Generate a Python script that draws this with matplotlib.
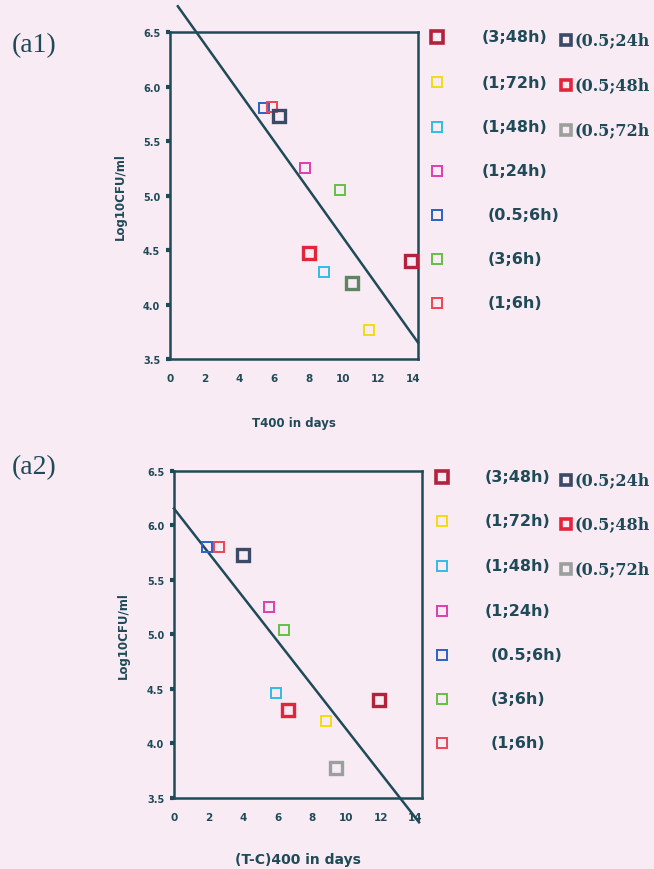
import numpy as np
import matplotlib
matplotlib.use("Agg")
import matplotlib.pyplot as plt

### Data ###
series = ["(3;48h)", "(1;72h)", "(1;48h)", "(1;24h)", "(0.5;6h)", "(3;6h)", "(1;6h)",
          "(0.5;24h", "(0.5;48h", "(0.5;72h"]
colors = ["#b3213c", "#f2dc12", "#2fbde6", "#dc3fae", "#2a62c4", "#66bf45", "#ee4452",
          "#3b4a66", "#e5243c", "#9aa09c"]
thick = [True, False, False, False, False, False, False, True, True, True]

# T400 in days (panel a1)
x_a1 = [13.9, 11.5, 8.9, 7.8, 5.4, 9.8, 5.9, 6.3, 8.0, 10.5]
y_a1 = [4.40, 3.77, 4.30, 5.25, 5.80, 5.05, 5.81, 5.73, 4.47, 4.20]
# (T-C)400 in days (panel a2)
x_a2 = [11.9, 8.8, 5.9, 5.5, 1.9, 6.4, 2.6, 4.0, 6.6, 9.4]
y_a2 = [4.40, 4.20, 4.46, 5.25, 5.80, 5.04, 5.80, 5.73, 4.30, 3.77]

xticks = [0, 2, 4, 6, 8, 10, 12, 14]
yticks = [3.5, 4.0, 4.5, 5.0, 5.5, 6.0, 6.5]

BG = "#f8ebf4"
INK = "#1f4a57"

fig = plt.figure(figsize=(6.54, 8.7), dpi=100, facecolor=BG)


def panel(rect, xs, ys, xmax, line_x, xlabel, xlabel_size, xlabel_pad, point_colors):
    ax = fig.add_axes(rect)
    ax.set_facecolor(BG)
    for i in range(len(series)):
        ax.plot(xs[i], ys[i], "s", ms=9 if thick[i] else 7.5, mfc="none",
                mec=point_colors[i], mew=2.4 if thick[i] else 1.4, zorder=3)
    # linear fit through all points
    slope, intercept = np.polyfit(xs, ys, 1)
    lx = np.array(line_x)
    ax.plot(lx, slope * lx + intercept, color=INK, lw=1.8, clip_on=False, zorder=2)
    ax.set_xlim(0, xmax)
    ax.set_ylim(3.5, 6.5)
    ax.set_xticks(xticks)
    ax.set_yticks(yticks)
    ax.set_yticklabels([f"{v:.1f}" for v in yticks])
    for s in ax.spines.values():
        s.set_color(INK)
        s.set_linewidth(1.8)
    ax.tick_params(axis="y", direction="out", length=3, width=3, color=INK,
                   labelsize=7, labelcolor=INK, pad=4)
    ax.tick_params(axis="x", length=0, labelsize=7.5, labelcolor=INK, pad=10)
    for lab in ax.get_xticklabels() + ax.get_yticklabels():
        lab.set_fontweight("bold")
    ax.set_xlabel(xlabel, fontsize=xlabel_size, fontweight="bold", color=INK, labelpad=xlabel_pad)
    ax.set_ylabel("Log10CFU/ml", fontsize=8.5, fontweight="bold", color=INK, labelpad=12)
    return ax


top_colors = list(colors)
top_colors[9] = "#5f8464"
panel([0.260, 0.586, 0.379, 0.376], x_a1, y_a1, 14.3, [0.45, 14.3],
      "T400 in days", 8.5, 24, top_colors)
panel([0.266, 0.082, 0.380, 0.376], x_a2, y_a2, 14.4, [0.0, 14.2],
      "(T-C)400 in days", 10, 22, colors)

fig.text(0.018, 0.948, "(a1)", fontsize=20, family="Liberation Serif", color=INK, va="center")
fig.text(0.018, 0.462, "(a2)", fontsize=20, family="Liberation Serif", color=INK, va="center")

# legends drawn beside each panel
legend_axes = fig.add_axes([0, 0, 1, 1])
legend_axes.set_xlim(0, 654)
legend_axes.set_ylim(870, 0)
legend_axes.axis("off")

rows_a1 = [38, 83, 128, 172, 216, 260, 304]
rows_a2 = [478, 522, 567, 612, 656, 700, 744]
for rows, mx, tx in [(rows_a1, 437, 482), (rows_a2, 442, 485)]:
    for i in range(7):
        legend_axes.plot(mx, rows[i], "s", ms=8 if thick[i] else 6.5, mfc="none",
                         mec=colors[i], mew=2.6 if thick[i] else 1.4)
        pad = 6 if i >= 4 else 0
        legend_axes.text(tx + pad, rows[i], series[i], fontsize=11.5, color=INK,
                         va="center", ha="left", fontweight="bold")
    for j in range(3):
        k = 7 + j
        yy = rows[j] + 3
        legend_axes.plot(566, yy, "s", ms=6.5, mfc="none", mec=colors[k], mew=2.6)
        legend_axes.text(574, yy, series[k], fontsize=11.5, color=INK, va="center",
                         ha="left", family="DejaVu Serif", fontweight="bold")

fig.savefig("out.png", dpi=100, facecolor=BG)
